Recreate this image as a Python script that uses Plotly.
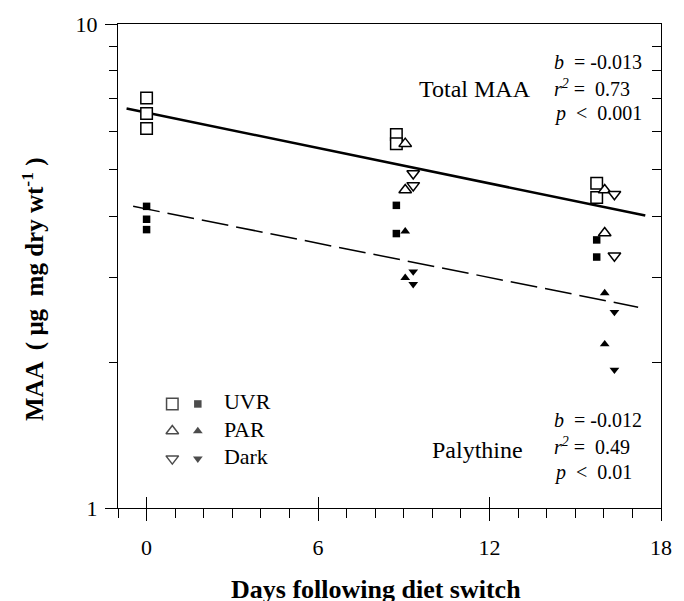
import plotly.graph_objects as go

# ---- data ----
uvr_open_x = [0, 0, 0, 8.74, 8.74, 15.75, 15.75]
uvr_open_y = [7.03, 6.53, 6.08, 5.91, 5.66, 4.69, 4.38]
uvr_fill_x = [0, 0, 0, 8.74, 8.74, 15.75, 15.75]
uvr_fill_y = [4.20, 3.95, 3.76, 4.22, 3.69, 3.58, 3.30]
par_open_x = [9.05, 9.05, 16.03, 16.03]
par_open_y = [5.66, 4.54, 4.54, 3.70]
par_fill_x = [9.05, 9.05, 16.03, 16.03]
par_fill_y = [3.73, 2.99, 2.78, 2.18]
dark_open_x = [9.33, 9.33, 16.37, 16.37]
dark_open_y = [4.91, 4.64, 4.45, 3.32]
dark_fill_x = [9.33, 9.33, 16.37, 16.37]
dark_fill_y = [3.08, 2.90, 2.54, 1.93]

total_line_x = [-0.7, 17.45]
total_line_y = [6.69, 4.02]
paly_line_x = [-0.47, 17.2]
paly_line_y = [4.20, 2.60]

x_ticks = [0, 6, 12, 18]
y_ticks = [1, 10]
y_minor = [2, 3, 4, 5, 6, 7, 8, 9]

legend_labels = ["UVR", "PAR", "Dark"]
legend_open_symbols = ["square", "triangle-up", "triangle-down"]
legend_fill_symbols = ["square", "triangle-up", "triangle-down"]

FONT = "Liberation Serif"
BLACK = "#000000"

fig = go.Figure()

# regression lines
fig.add_trace(go.Scatter(x=total_line_x, y=total_line_y, mode="lines",
                         line=dict(color=BLACK, width=2.6), showlegend=False))
fig.add_trace(go.Scatter(x=paly_line_x, y=paly_line_y, mode="lines",
                         line=dict(color=BLACK, width=1.5, dash="27px,8px"), showlegend=False))


def open_marker(sym, size):
    return dict(symbol=sym, size=size, color="white", line=dict(color=BLACK, width=1.5))


def fill_marker(sym, size):
    return dict(symbol=sym, size=size, color=BLACK, line=dict(width=0))


fig.add_trace(go.Scatter(x=uvr_fill_x, y=uvr_fill_y, mode="markers", marker=fill_marker("square", 7.5), showlegend=False))
fig.add_trace(go.Scatter(x=par_fill_x, y=par_fill_y, mode="markers", marker=fill_marker("triangle-up", 8.5), showlegend=False))
fig.add_trace(go.Scatter(x=dark_fill_x, y=dark_fill_y, mode="markers", marker=fill_marker("triangle-down", 8.5), showlegend=False))
fig.add_trace(go.Scatter(x=uvr_open_x, y=uvr_open_y, mode="markers", marker=open_marker("square", 11.5), showlegend=False))
fig.add_trace(go.Scatter(x=par_open_x, y=par_open_y, mode="markers", marker=open_marker("triangle-up", 11), showlegend=False))
fig.add_trace(go.Scatter(x=dark_open_x, y=dark_open_y, mode="markers", marker=open_marker("triangle-down", 11), showlegend=False))

# custom legend on an overlay [0,1] axis pair
leg_y = [0.215, 0.159, 0.102]
fig.add_trace(go.Scatter(x=[0.1] * 3, y=leg_y, mode="markers", xaxis="x2", yaxis="y2",
                         marker=dict(symbol=legend_open_symbols, size=[11.5, 11, 11], color="white",
                                     line=dict(color=BLACK, width=1.5)), showlegend=False))
fig.add_trace(go.Scatter(x=[0.147] * 3, y=leg_y, mode="markers", xaxis="x2", yaxis="y2",
                         marker=dict(symbol=legend_fill_symbols, size=[7.5, 8.5, 8.5], color=BLACK,
                                     line=dict(width=0)), showlegend=False))
fig.add_trace(go.Scatter(x=[0.195] * 3, y=leg_y, mode="text", xaxis="x2", yaxis="y2",
                         text=legend_labels, textposition="middle right",
                         textfont=dict(family=FONT, size=22, color=BLACK), showlegend=False))

axis_common = dict(showgrid=False, zeroline=False, linecolor=BLACK, linewidth=1.3,
                   tickcolor=BLACK, tickwidth=1.3)

fig.update_layout(
    width=684, height=601,
    margin=dict(l=118, r=12, t=22, b=93),
    plot_bgcolor="white", paper_bgcolor="white",
    font=dict(family=FONT, size=22, color=BLACK),
    xaxis=dict(range=[-1, 18], tickvals=x_ticks, ticks="outside", ticklen=12,
               showline=True, mirror=True, ticklabelstandoff=7,
               tickfont=dict(family=FONT, size=22),
               minor=dict(dtick=1, tick0=0, ticks="outside", ticklen=9, tickwidth=1.3, tickcolor=BLACK),
               **axis_common),
    xaxis3=dict(range=[-1, 18], overlaying="x", tickvals=x_ticks, ticks="inside", ticklen=11,
                showticklabels=False, showline=False, showgrid=False, zeroline=False,
                tickcolor=BLACK, tickwidth=1.3),
    yaxis=dict(type="log", range=[0, 1], tickvals=y_ticks, ticktext=["1", "10"], ticks="outside",
               ticklen=12, showline=True, mirror=True, ticklabelstandoff=3,
               tickfont=dict(family=FONT, size=22),
               minor=dict(tickvals=y_minor, ticks="outside", ticklen=8, tickwidth=1.3, tickcolor=BLACK),
               **axis_common),
    yaxis3=dict(type="log", range=[0, 1], overlaying="y", side="right", tickvals=y_minor,
                ticks="inside", ticklen=9, showticklabels=False, showline=False,
                showgrid=False, zeroline=False, tickcolor=BLACK, tickwidth=1.3),
    xaxis2=dict(range=[0, 1], overlaying="x", visible=False),
    yaxis2=dict(range=[0, 1], overlaying="y", visible=False),
)

# empty trace so the x3/y3 tick overlays are drawn
fig.add_trace(go.Scatter(x=[None], y=[None], xaxis="x3", yaxis="y3", showlegend=False))

ann = []
stat_font = dict(family=FONT, size=20, color=BLACK)
stat_x = 0.80
for y, txt in [(0.922, "<i>b</i>  = -0.013"), (0.868, "<i>r<sup>2</sup></i> =  0.73"), (0.816, "<i>p</i>  <  0.001"),
               (0.181, "<i>b</i>  = -0.012"), (0.1275, "<i>r<sup>2</sup></i> =  0.49"), (0.074, "<i>p</i>  <  0.01")]:
    ann.append(dict(x=stat_x, y=y, xref="paper", yref="paper", text=txt, showarrow=False,
                    xanchor="left", yanchor="middle", font=stat_font))
ann.append(dict(x=0.7635, y=0.866, xref="paper", yref="paper", text="Total MAA", showarrow=False,
                xanchor="right", yanchor="middle", font=dict(family=FONT, size=24, color=BLACK)))
ann.append(dict(x=0.749, y=0.119, xref="paper", yref="paper", text="Palythine", showarrow=False,
                xanchor="right", yanchor="middle", font=dict(family=FONT, size=24, color=BLACK)))
ann.append(dict(x=0.475, y=-0.1686, xref="paper", yref="paper", text="<b>Days following diet switch</b>",
                showarrow=False, xanchor="center", yanchor="middle", font=dict(family=FONT, size=26, color=BLACK)))
ann.append(dict(x=-0.157, y=0.452, xref="paper", yref="paper",
                text="<b>MAA  ( μg  mg dry wt<sup>-1</sup> )</b>", textangle=-90,
                showarrow=False, xanchor="center", yanchor="middle", font=dict(family=FONT, size=25, color=BLACK)))
fig.update_layout(annotations=ann)

fig.write_html("out.html")
